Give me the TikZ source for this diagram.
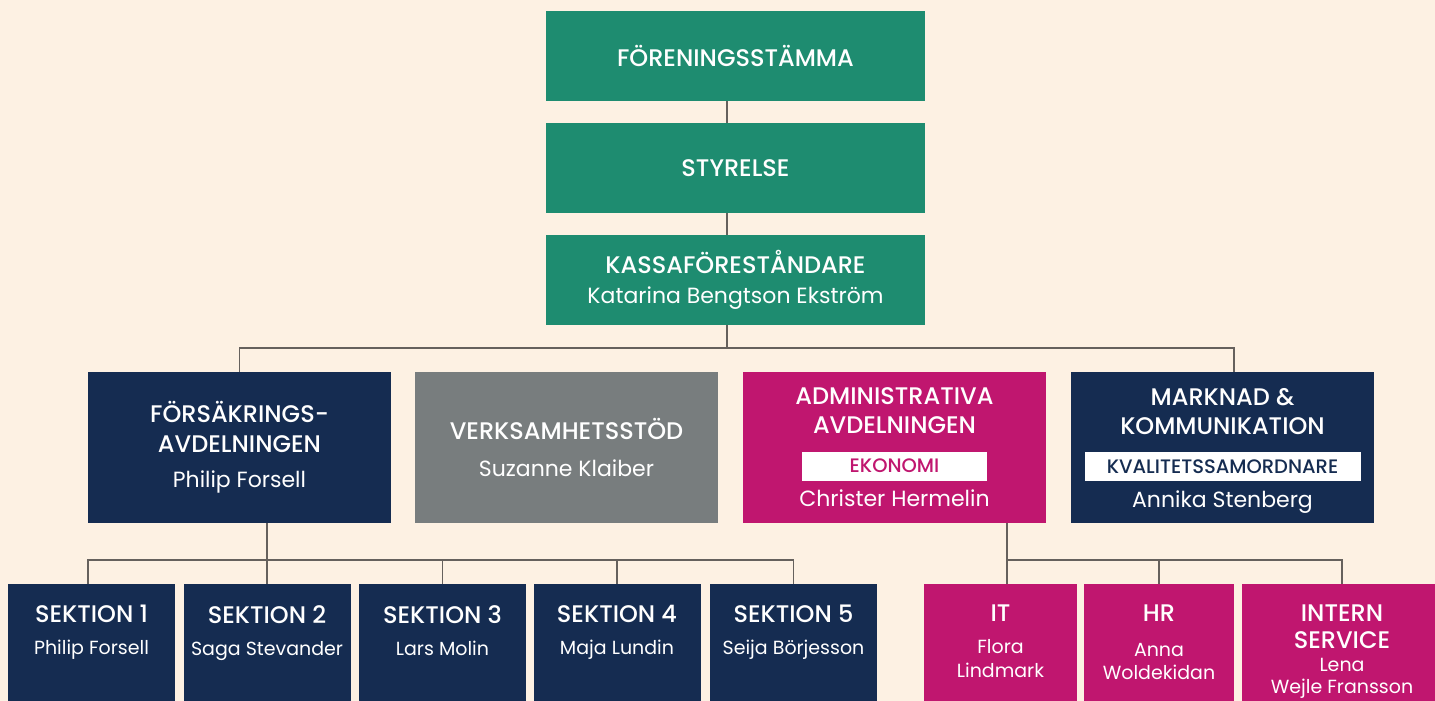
\documentclass[tikz,border=0pt]{standalone}
\usepackage{fontspec}
\setmainfont{Poppins}[BoldFont={Poppins Medium}]
\usepackage{tikz}
\usetikzlibrary{arrows,shapes}
\definecolor{bgcream}{HTML}{FDF1E3}
\definecolor{kgreen}{HTML}{1E8C70}
\definecolor{knavy}{HTML}{152C51}
\definecolor{kgray}{HTML}{787D7E}
\definecolor{kmag}{HTML}{C0166F}
\definecolor{kline}{HTML}{66615D}
\tikzstyle{unit}=[rectangle,inner sep=0pt,align=center,text=white,font=\bfseries\fontsize{24}{30}\selectfont]
\tikzstyle{top unit}=[unit,fill=kgreen,minimum width=379pt,minimum height=90pt]
\tikzstyle{dept}=[unit,minimum width=303pt,minimum height=151pt]
\tikzstyle{sub unit}=[unit,anchor=north,inner ysep=21pt,text depth=70pt]
\tikzstyle{section}=[sub unit,fill=knavy,minimum width=167pt]
\tikzstyle{edge}=[draw,line width=1.3pt,kline]
\newcommand{\who}[2][22]{{\mdseries\fontsize{#1}{30}\selectfont #2}}
\newcommand{\roletag}[3]{{\fboxsep=0pt\colorbox{white}{\rule[-8pt]{0pt}{29pt}\makebox[#1]{\color{#2}\fontsize{19.5}{20}\selectfont #3}}}}

\begin{document}
\begin{tikzpicture}[x=1pt,y=-1pt]
    \useasboundingbox (0,0) rectangle (1435,701);
    \clip (0,0) rectangle (1435,701);
    \fill[bgcream] (0,0) rectangle (1435,701);

    % First we draw the boxes
    \node[top unit] (fs) at (735.5,56) {FÖRENINGSSTÄMMA};
    \node[top unit] (sty) at (735.5,168) {STYRELSE};
    \node[top unit] (kassa) at (735.5,280) {KASSAFÖRESTÅNDARE\\\who{Katarina Bengtson Ekström}};

    \node[dept,fill=knavy] (fa) at (239.5,447.5) {FÖRSÄKRINGS-\\AVDELNINGEN\\[5pt]\who{Philip Forsell}};
    \node[dept,fill=kgray] (vs) at (566.5,447.5) {VERKSAMHETSSTÖD\\[7pt]\who{Suzanne Klaiber}};
    \node[dept,fill=kmag] (ad) at (894.5,447.5) {ADMINISTRATIVA\\[-1pt]AVDELNINGEN\\[9pt]\roletag{185pt}{kmag}{EKONOMI}\\[4pt]\who{Christer Hermelin}};
    \node[dept,fill=knavy,text depth=0pt] (mk) at (1222.5,447.5) {MARKNAD \&\\[-1pt]KOMMUNIKATION\\[9pt]\roletag{276pt}{knavy}{KVALITETSSAMORDNARE}\\[4pt]\who{Annika Stenberg}};

    \foreach \pos/\name/\head/\boss in {{(91.5,584)/s1/SEKTION 1/Philip Forsell}, {(267,584)/s2/SEKTION 2/Saga Stevander}, {(442.5,584)/s3/SEKTION 3/Lars Molin}, {(617,584)/s4/SEKTION 4/Maja Lundin}, {(793.5,584)/s5/SEKTION 5/Seija Börjesson}}
        \node[section] (\name) at \pos {\head\\[2pt]\who[19]{\boss}};

    \node[sub unit,fill=kmag,minimum width=153pt] (it) at (1000.5,584) {IT\\[2pt]\who[19]{Flora}\\[-6pt]\who[19]{Lindmark}};
    \node[sub unit,fill=kmag,minimum width=150pt] (hr) at (1159,584) {HR\\[5pt]\who[19]{Anna}\\[-7pt]\who[19]{Woldekidan}};
    \node[sub unit,fill=kmag,minimum width=200pt] (is) at (1342,584) {INTERN\\[-3pt]SERVICE\\[-7pt]\who[19]{Lena}\\[-8pt]\who[19]{Wejle Fransson}};

    % Connect boxes with lines
    \draw[edge] ([xshift=-8.5pt]fs.south) -- ([xshift=-8.5pt]sty.north);
    \draw[edge] ([xshift=-8.5pt]sty.south) -- ([xshift=-8.5pt]kassa.north);
    \coordinate (mainbar) at (727,348);
    \draw[edge] ([xshift=-8.5pt]kassa.south) -- (mainbar);
    \draw[edge] (fa.north) |- (mainbar) -| ([xshift=11.5pt]mk.north);

    \coordinate (fabar) at (267,560);
    \draw[edge] ([xshift=27.5pt]fa.south) -- (fabar);
    \draw[edge] ([xshift=-3.5pt]s1.north) |- (fabar) -| (s5.north);
    \foreach \name in {s2,s3,s4}
        \path[edge] (\name.north) -- (\name.north |- fabar);

    \coordinate (adbar) at (1007,560);
    \draw[edge] (adbar |- ad.south) -- (adbar |- it.north);
    \draw[edge] (adbar) -| (hr.north);
    \draw[edge] (hr.north |- adbar) -| (is.north);
\end{tikzpicture}
\end{document}
